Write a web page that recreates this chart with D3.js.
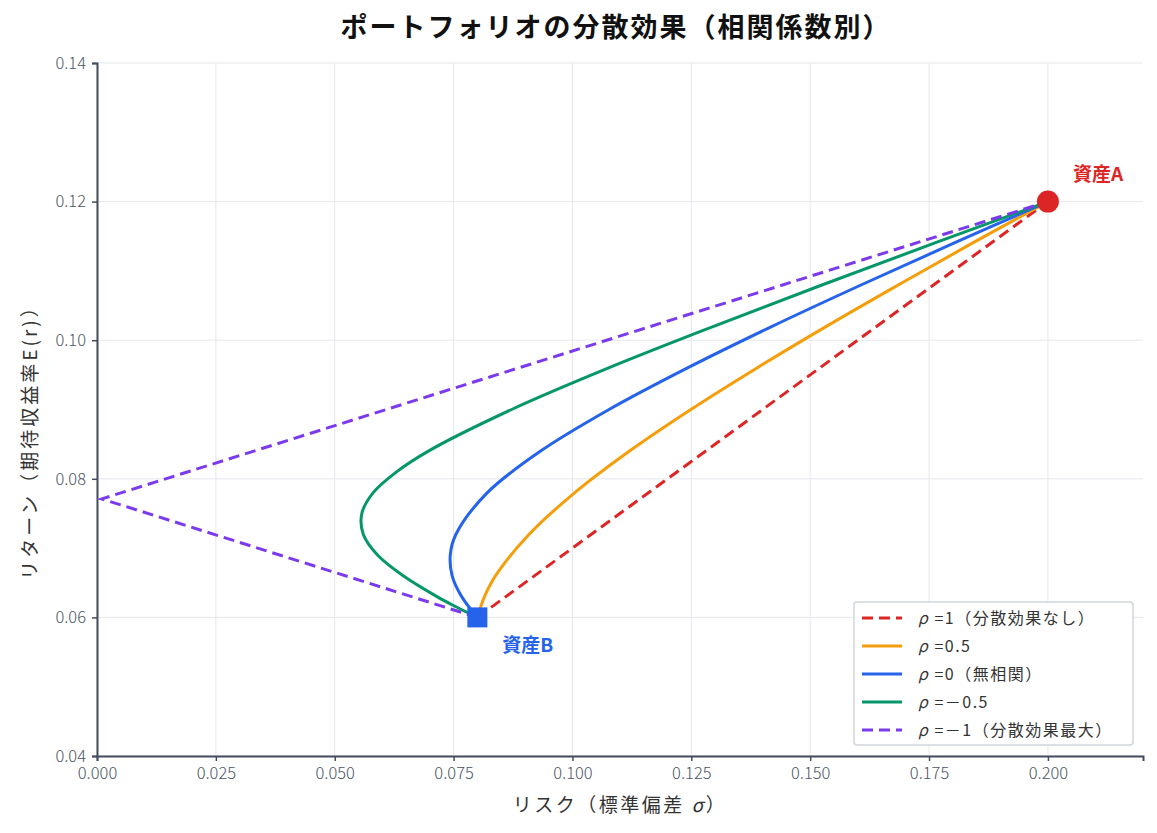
<!DOCTYPE html>
<html>
<head>
<meta charset="utf-8">
<script src="https://cdn.jsdelivr.net/npm/d3@7"></script>
<style>
  body { margin: 0; background: #fff; font-family: "Noto Sans CJK JP", "Noto Sans", sans-serif; }
</style>
</head>
<body>
<div id="chart"></div>
<script>
// [σ, E(r)]
const rho1 = [[0.08, 0.06], [0.2, 0.12]];
const rho05 = [[0.08, 0.06], [0.0815, 0.063], [0.0838, 0.066], [0.0909, 0.072], [0.1005, 0.078], [0.112, 0.084],
  [0.1249, 0.09], [0.1388, 0.096], [0.1534, 0.102], [0.1686, 0.108], [0.1841, 0.114], [0.2, 0.12]];
const rho0 = [[0.08, 0.06], [0.0767, 0.063], [0.0747, 0.066], [0.0743, 0.069], [0.0755, 0.072], [0.0821, 0.078],
  [0.0933, 0.084], [0.1077, 0.09], [0.1242, 0.096], [0.142, 0.102], [0.1608, 0.108], [0.1802, 0.114], [0.2, 0.12]];
const rhoM05 = [[0.08, 0.06], [0.0756, 0.0615], [0.0715, 0.063], [0.0644, 0.066], [0.059, 0.069], [0.056, 0.072],
  [0.0557, 0.075], [0.0581, 0.078], [0.063, 0.081], [0.0697, 0.084], [0.0872, 0.09], [0.1076, 0.096],
  [0.1297, 0.102], [0.1526, 0.108], [0.1761, 0.114], [0.2, 0.12]];
const rhoM1 = [[0.08, 0.06], [0.001, 0.0771], [0.2, 0.12]];

// legend labels: [suffix after ρ]
const seriesNames = [" =1（分散効果なし）", " =0.5", " =0（無相関）", " =－0.5", " =－1（分散効果最大）"];
const seriesColors = ["#dc2626", "#f59e0b", "#2563eb", "#059669", "#7c3aed"];
const seriesDashed = [true, false, false, false, true];
const seriesData = [rho1, rho05, rho0, rhoM05, rhoM1];

const assetA = [0.2, 0.12];
const assetB = [0.08, 0.06];

const xTicks = [0, 0.025, 0.05, 0.075, 0.1, 0.125, 0.15, 0.175, 0.2];
const yTicks = [0.04, 0.06, 0.08, 0.1, 0.12, 0.14];

const W = 1157, H = 833;
const margin = { top: 63, right: 14, bottom: 77, left: 97 };
const width = W - margin.left - margin.right;
const height = H - margin.top - margin.bottom;

const svg = d3.select("#chart").append("svg")
  .attr("width", W)
  .attr("height", H);

const g = svg.append("g")
  .attr("transform", `translate(${margin.left},${margin.top})`);

const x = d3.scaleLinear().domain([0, 0.22]).range([0, width]);
const y = d3.scaleLinear().domain([0.04, 0.14]).range([height, 0]);

// grid
g.append("g").selectAll("line")
  .data(xTicks)
  .join("line")
  .attr("x1", d => x(d)).attr("x2", d => x(d))
  .attr("y1", 0).attr("y2", height)
  .attr("stroke", "#e5e7eb").attr("stroke-width", 1);
g.append("g").selectAll("line")
  .data(yTicks)
  .join("line")
  .attr("x1", 0).attr("x2", width)
  .attr("y1", d => y(d)).attr("y2", d => y(d))
  .attr("stroke", "#e5e7eb").attr("stroke-width", 1);

// axes
const axisColor = "#434c5e";
const xAxis = g.append("g")
  .attr("transform", `translate(0,${height})`)
  .call(d3.axisBottom(x).tickValues(xTicks).tickFormat(d3.format(".3f")).tickSize(5).tickPadding(6));
const yAxis = g.append("g")
  .call(d3.axisLeft(y).tickValues(yTicks).tickFormat(d3.format(".2f")).tickSize(5).tickPadding(6));
[xAxis, yAxis].forEach(a => {
  a.select(".domain").attr("stroke", axisColor).attr("stroke-width", 2);
  a.selectAll(".tick line").attr("stroke", axisColor).attr("stroke-width", 1.5);
  a.selectAll("text")
    .attr("fill", "#4b5563")
    .style("font-size", "16.5px")
    .style("font-weight", "300")
    .style("font-family", "'Noto Sans CJK JP', sans-serif");
});

// curves
const line = d3.line()
  .curve(d3.curveCatmullRom.alpha(0.5))
  .x(d => x(d[0]))
  .y(d => y(d[1]));

const lineLinear = d3.line()
  .x(d => x(d[0]))
  .y(d => y(d[1]));

seriesData.forEach((s, i) => {
  g.append("path")
    .datum(s)
    .attr("fill", "none")
    .attr("stroke", seriesColors[i])
    .attr("stroke-width", 3)
    .attr("stroke-dasharray", seriesDashed[i] ? "11,6" : null)
    .attr("d", seriesDashed[i] ? lineLinear : line);
});

// assets
g.append("circle")
  .attr("cx", x(assetA[0])).attr("cy", y(assetA[1]))
  .attr("r", 11)
  .attr("fill", "#dc2626");
g.append("rect")
  .attr("x", x(assetB[0]) - 10).attr("y", y(assetB[1]) - 10)
  .attr("width", 20).attr("height", 20)
  .attr("fill", "#2563eb");

g.append("text")
  .attr("x", x(assetA[0]) + 25).attr("y", y(assetA[1]) - 21)
  .attr("fill", "#dc2626")
  .style("font-size", "19px").style("font-weight", "bold")
  .text("資産A");
g.append("text")
  .attr("x", x(assetB[0]) + 25).attr("y", y(assetB[1]) + 35)
  .attr("fill", "#2563eb")
  .style("font-size", "19px").style("font-weight", "bold")
  .text("資産B");

// title and labels
svg.append("text")
  .attr("x", 616).attr("y", 37)
  .attr("text-anchor", "middle")
  .style("font-size", "27px").style("font-weight", "bold")
  .style("letter-spacing", "2px")
  .attr("fill", "#111")
  .text("ポートフォリオの分散効果（相関係数別）");

const xLabel = svg.append("text")
  .attr("x", margin.left + x(0.11)).attr("y", 812)
  .attr("text-anchor", "middle")
  .style("font-size", "19px")
  .style("letter-spacing", "2.5px")
  .attr("fill", "#333");
xLabel.append("tspan").text("リスク（標準偏差 ");
xLabel.append("tspan").style("font-style", "italic").text("σ");
xLabel.append("tspan").text("）");

svg.append("text")
  .attr("transform", `translate(37,${margin.top + height / 2 + 28}) rotate(-90)`)
  .attr("text-anchor", "middle")
  .style("font-size", "19px")
  .style("letter-spacing", "3px")
  .attr("fill", "#333")
  .text("リターン（期待収益率E(r)）");

// legend
const legend = svg.append("g").attr("transform", "translate(854,602)");
legend.append("rect")
  .attr("width", 279).attr("height", 143)
  .attr("rx", 3)
  .attr("fill", "#fff").attr("fill-opacity", 0.9)
  .attr("stroke", "#d1d5db").attr("stroke-width", 1.5);
seriesNames.forEach((name, i) => {
  const row = legend.append("g").attr("transform", `translate(0,${16 + i * 28})`);
  row.append("line")
    .attr("x1", 8).attr("x2", 48)
    .attr("stroke", seriesColors[i])
    .attr("stroke-width", 3)
    .attr("stroke-dasharray", seriesDashed[i] ? "11,6" : null);
  const t = row.append("text")
    .attr("x", 64).attr("y", 6)
    .style("font-size", "16px")
    .style("letter-spacing", "1.5px")
    .attr("fill", "#333");
  t.append("tspan").style("font-style", "italic").text("ρ");
  t.append("tspan").text(name);
});
</script>
</body>
</html>
